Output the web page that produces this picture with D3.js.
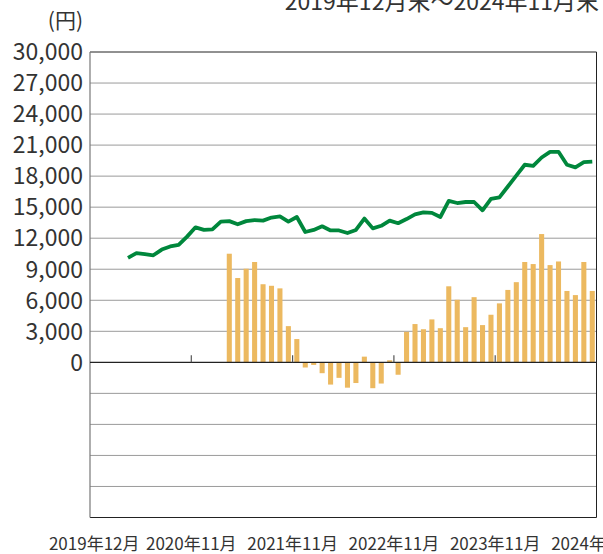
<!DOCTYPE html>
<html>
<head>
<meta charset="utf-8">
<script src="https://cdn.jsdelivr.net/npm/d3@7"></script>
<style>
  body { margin: 0; background: #fff; }
  svg { display: block; }
  text { font-family: "Noto Sans CJK JP", "Noto Sans", sans-serif; fill: #333; }
</style>
</head>
<body>
<div id="chart"></div>
<script>
// months 2019-12 .. 2024-11
const months = [];
for (let i = 0; i < 60; i++) {
  const yy = 2019 + Math.floor((11 + i) / 12), mm = (11 + i) % 12 + 1;
  months.push(yy + "-" + mm);
}

// green line: from 2020-4
const lineFrom = "2020-4";
const lineValues = [
  10100, 10550, 10450, 10350, 10900, 11200, 11350, 12150, 13050, 12800,
  12850, 13600, 13650, 13350, 13650, 13750, 13700, 14000, 14100, 13600,
  14050, 12600, 12800, 13150, 12750, 12750, 12500, 12800, 13900, 12950,
  13200, 13700, 13450, 13850, 14300, 14500, 14450, 14050, 15600, 15400,
  15500, 15500, 14700, 15800, 15950, 17000, 18050, 19100, 19000, 19800,
  20350, 20350, 19100, 18850, 19350, 19400
];

// orange bars: from 2021-4
const barFrom = "2021-4";
const barValues = [
  10500, 8150, 9050, 9700, 7550, 7400, 7150, 3500, 2250, -500,
  -250, -1050, -2150, -1500, -2450, -2000, 550, -2500, -2050, 200,
  -1200, 2950, 3700, 3200, 4150, 3300, 7350, 6050, 3400, 6300,
  3600, 4600, 5700, 7000, 7750, 9700, 9500, 12400, 9400, 9750,
  6900, 6500, 9700, 6900
];

const yTicks = [0, 3000, 6000, 9000, 12000, 15000, 18000, 21000, 24000, 27000, 30000];
const negGrid = [-3000, -6000, -9000, -12000];
const xLabelMonths = ["2019-12", "2020-11", "2021-11", "2022-11", "2023-11", "2024-11"];
const xLabels = ["2019年12月", "2020年11月", "2021年11月", "2022年11月", "2023年11月", "2024年11月"];
const tickMonths = ["2020-11", "2021-11", "2022-11", "2023-11"];
const title = "2019年12月末～2024年11月末";
const unit = "(円)";

const W = 603, H = 554;
const plot = { left: 90, right: 596.5, top: 52, bottom: 517.5 };

const svg = d3.select("#chart").append("svg")
  .attr("width", W).attr("height", H);

const x = d3.scaleBand().domain(months).range([plot.left, plot.right]).padding(0);
const y = d3.scaleLinear().domain([-15000, 30000]).range([plot.bottom, plot.top]);
const bw = x.bandwidth();

// gridlines
svg.append("g").selectAll("line")
  .data(yTicks.filter(d => d !== 0 && d !== 30000).concat(negGrid))
  .join("line")
  .attr("x1", plot.left).attr("x2", plot.right)
  .attr("y1", d => y(d)).attr("y2", d => y(d))
  .attr("stroke", "#9a9a9a").attr("stroke-width", 1);

// bars
const i0 = months.indexOf(barFrom);
const bars = barValues.map((v, i) => ({ m: months[i0 + i], v }));
svg.append("g").selectAll("rect")
  .data(bars)
  .join("rect")
  .attr("x", d => x(d.m) + bw * 0.2)
  .attr("width", bw * 0.6)
  .attr("y", d => y(Math.max(0, d.v)))
  .attr("height", d => Math.abs(y(d.v) - y(0)))
  .attr("fill", "#ecb960");

// frame
svg.append("line").attr("x1", plot.left).attr("x2", plot.right).attr("y1", plot.top).attr("y2", plot.top).attr("stroke", "#222");
svg.append("line").attr("x1", plot.left).attr("x2", plot.right).attr("y1", plot.bottom).attr("y2", plot.bottom).attr("stroke", "#222");
svg.append("line").attr("x1", plot.right).attr("x2", plot.right).attr("y1", plot.top).attr("y2", plot.bottom).attr("stroke", "#222");
svg.append("line").attr("x1", plot.left).attr("x2", plot.left).attr("y1", plot.top).attr("y2", plot.bottom).attr("stroke", "#777").attr("stroke-width", 1.2);
svg.append("line").attr("x1", plot.left).attr("x2", plot.right).attr("y1", y(0)).attr("y2", y(0)).attr("stroke", "#222").attr("stroke-width", 1.2);

// small ticks on zero line
svg.append("g").selectAll("line")
  .data(tickMonths)
  .join("line")
  .attr("x1", d => x(d) + bw).attr("x2", d => x(d) + bw)
  .attr("y1", y(0) - 7).attr("y2", y(0))
  .attr("stroke", "#555").attr("stroke-width", 1.2);

// line
const j0 = months.indexOf(lineFrom);
const pts = lineValues.map((v, i) => ({ m: months[j0 + i], v }));
svg.append("path")
  .datum(pts)
  .attr("fill", "none")
  .attr("stroke", "#00873c")
  .attr("stroke-width", 3.8)
  .attr("stroke-linejoin", "round")
  .attr("d", d3.line().x(d => x(d.m) + bw / 2).y(d => y(d.v)));

// y labels
svg.append("g").selectAll("text")
  .data(yTicks)
  .join("text")
  .attr("x", 83).attr("y", d => y(d))
  .attr("dy", "0.36em")
  .attr("text-anchor", "end")
  .attr("font-size", 23)
  .text(d => d3.format(",")(d));

svg.append("text").attr("x", 83).attr("y", 28).attr("text-anchor", "end")
  .attr("font-size", 21).text(unit);

svg.append("text").attr("x", 599).attr("y", 10).attr("text-anchor", "end")
  .attr("font-size", 23).text(title);

// x labels
svg.append("g").selectAll("text")
  .data(xLabelMonths)
  .join("text")
  .attr("x", (d, i) => i === 0 ? x(d) + bw / 2 : x(d) + bw)
  .attr("y", 550)
  .attr("text-anchor", "middle")
  .attr("font-size", 17)
  .text((d, i) => xLabels[i]);
</script>
</body>
</html>
